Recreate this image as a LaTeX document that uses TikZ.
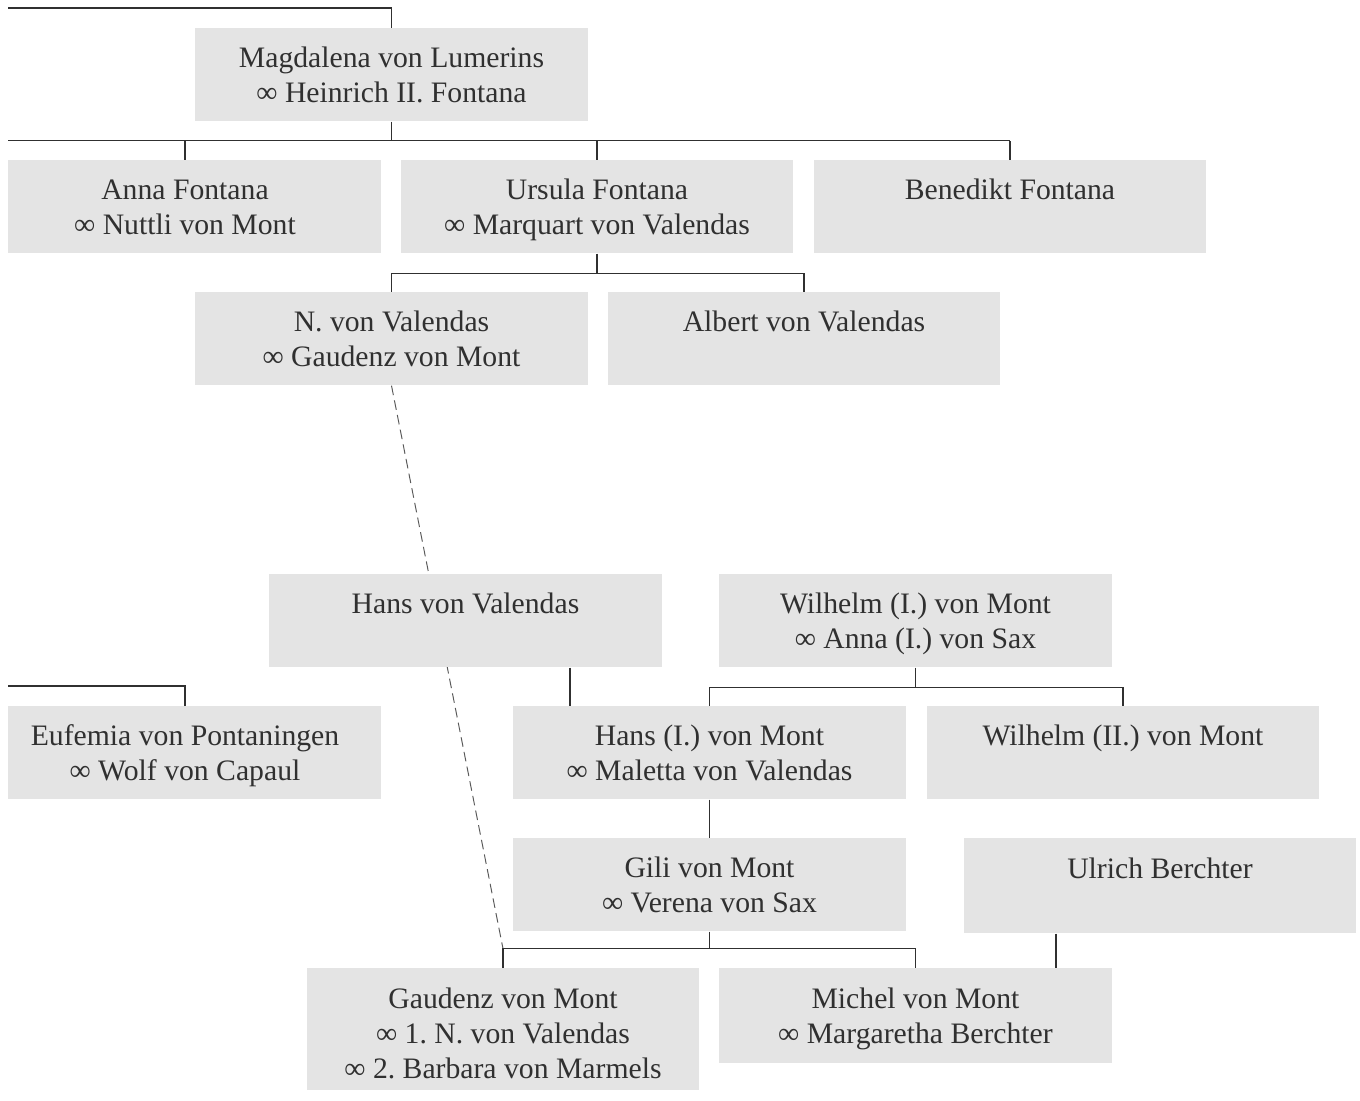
\documentclass[tikz,border=0pt]{standalone}
\usepackage{fontspec}
\setmainfont{Liberation Serif}
\frenchspacing
\pgfdeclarelayer{bg}
\pgfsetlayers{bg,main}
\definecolor{boxgray}{RGB}{228,228,228}
\definecolor{inkgray}{RGB}{48,48,48}
\tikzset{
  person/.style={rectangle, fill=boxgray, text=inkgray, anchor=north, inner sep=0pt,
    minimum width=7.86cm, minimum height=1.86cm, align=center, text depth=0pt,
    font=\fontsize{16.9}{19.9}\selectfont},
  line/.style={draw=inkgray, line width=0.8pt},
  descent/.style={draw=inkgray!80, line width=0.55pt, dash pattern=on 5.5pt off 3pt}
}
\begin{document}
\begin{tikzpicture}[x=0.02cm,y=-0.02cm]
  \useasboundingbox (0,0) rectangle (1360,1101);
  \clip (8,0) rectangle (1360,1101);
  \coordinate (leftedge) at (0,0);
  % Draw boxes
  \node[person] (mag)  at (391.5,28) {Magdalena von Lumerins\\∞ Heinrich II. Fontana};
  \node[person] (anna) at (185,160)  {Anna Fontana\\∞ Nuttli von Mont};
  \node[person] (urs)  at (597,160)  {Ursula Fontana\\∞ Marquart von Valendas};
  \node[person] (ben)  at (1010,160) {Benedikt Fontana\\\phantom{x}};
  \node[person] (nvv)  at (391.5,292) {N. von Valendas\\∞ Gaudenz von Mont};
  \node[person] (alb)  at (804,292)  {Albert von Valendas\\\phantom{x}};
  \node[person] (hvv)  at (465.5,574) {Hans von Valendas\\\phantom{x}};
  \node[person] (wm)   at (915.5,574) {Wilhelm (I.) von Mont\\∞ Anna (I.) von Sax};
  \node[person] (euf)  at (185,706)  {Eufemia von Pontaningen\\∞ Wolf von Capaul};
  \node[person] (hm)   at (709.5,706) {Hans (I.) von Mont\\∞ Maletta von Valendas};
  \node[person] (wm2)  at (1123,706) {Wilhelm (II.) von Mont\\\phantom{x}};
  \node[person] (gili) at (709.5,838) {Gili von Mont\\∞ Verena von Sax};
  \node[person, minimum height=1.9cm] (ul) at (1160,838) {Ulrich Berchter\\\phantom{x}};
  \node[person, minimum height=2.44cm, text height=55.5pt] (gau) at (503,968)
    {Gaudenz von Mont\\∞ 1. N. von Valendas\\∞ 2. Barbara von Marmels};
  \node[person, minimum height=1.9cm] (mich) at (915.5,968) {Michel von Mont\\∞ Margaretha Berchter};
  % junctions
  \coordinate (mj) at ([yshift=-0.38cm]mag.south);
  \coordinate (uj) at ([yshift=-0.4cm]urs.south);
  \coordinate (wj) at ([yshift=-0.4cm]wm.south);
  \coordinate (gj) at ([yshift=-0.34cm]gili.south);
  \coordinate (hvvfoot) at ([xshift=2.09cm]hvv.south);
  \coordinate (ulfoot) at ([xshift=-2.08cm]ul.south);
  % Draw lines
  \draw[line] (mag.north) |- ([yshift=0.4cm]mag.north -| leftedge);
  \draw[line] (mag.south) -- (mj);
  \draw[line] (mj -| leftedge) -- (mj -| ben.north);
  \foreach \k in {anna,urs,ben}
    \draw[line] (\k.north) -- (\k.north |- mj);
  \draw[line] (urs.south) -- (uj);
  \draw[line] (nvv.north) |- (uj) -| (alb.north);
  \draw[line] (euf.north) |- ([yshift=0.4cm]euf.north -| leftedge);
  \draw[line] (hvvfoot) -- (hvvfoot |- hm.north);
  \draw[line] (wm.south) -- (wj);
  \draw[line] (hm.north) |- (wj) -| (wm2.north);
  \draw[line] (hm.south) -- (gili.north);
  \draw[line] (gili.south) -- (gj);
  \draw[line] (gau.north) |- (gj) -| (mich.north);
  \draw[line] (ulfoot) -- (ulfoot |- mich.north);
  % dashed descent behind the boxes
  \begin{pgfonlayer}{bg}
    \draw[descent] (nvv.south) -- (gau.north |- gj);
  \end{pgfonlayer}
\end{tikzpicture}
\end{document}
